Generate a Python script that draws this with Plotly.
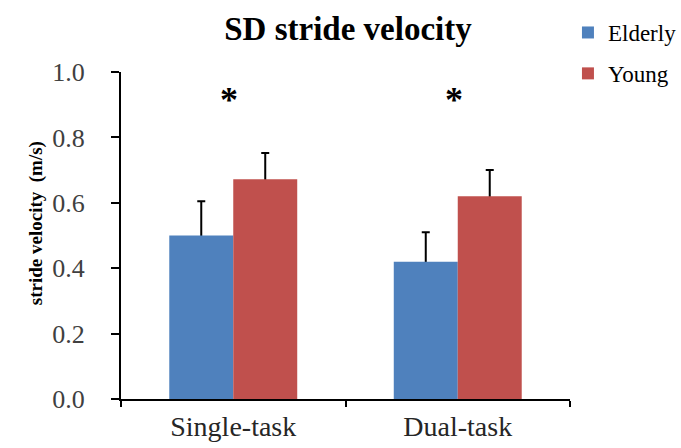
import plotly.graph_objects as go

categories = ["Single-task", "Dual-task"]
elderly = [0.50, 0.42]
elderly_sd = [0.105, 0.09]
young = [0.672, 0.62]
young_sd = [0.08, 0.08]
y_ticks = [0.0, 0.2, 0.4, 0.6, 0.8, 1.0]
y_tick_labels = ["0.0", "0.2", "0.4", "0.6", "0.8", "1.0"]
markers = ["*", "*"]
marker_y = [0.915, 0.915]

SERIF = "Liberation Serif, Times New Roman, serif"
BLUE = "#4F81BD"
RED = "#C0504D"

fig = go.Figure()
# error bars (drawn underneath, on the base y axis, with transparent bars)
for name, vals, sd, grp in [("Elderly", elderly, elderly_sd, "e"), ("Young", young, young_sd, "y")]:
    fig.add_trace(go.Bar(
        x=categories, y=vals, name=name, legendgroup=grp, showlegend=False,
        marker=dict(color="rgba(0,0,0,0)", line=dict(width=0)), hoverinfo="skip",
        error_y=dict(type="data", array=sd, arrayminus=[0.03] * len(sd), symmetric=False,
                     color="black", thickness=2, width=4),
        yaxis="y",
    ))
# visible bars on an overlaid axis so they cover the lower part of the error bars
for name, vals, color, grp in [("Elderly", elderly, BLUE, "e"), ("Young", young, RED, "y")]:
    fig.add_trace(go.Bar(
        x=categories, y=vals, name=name, legendgroup=grp,
        marker=dict(color=color, line=dict(width=0)),
        yaxis="y2",
    ))

for c, m, yv in zip(categories, markers, marker_y):
    fig.add_annotation(x=c, y=yv, xref="x", yref="y", text="<b>" + m + "</b>", showarrow=False,
                       xshift=-4, font=dict(family=SERIF, size=36, color="black"))

fig.add_annotation(x=-0.218, y=0.538, xref="paper", yref="paper",
                   text="<b>stride velocity  (m/s)</b>", textangle=-90, showarrow=False,
                   font=dict(family=SERIF, size=19, color="black"))

fig.update_layout(
    width=681, height=448,
    margin=dict(l=121, r=111, t=72, b=49, autoexpand=False),
    paper_bgcolor="white", plot_bgcolor="white",
    barmode="group", bargap=0.43, bargroupgap=0,
    title=dict(text="<b>SD stride velocity</b>", x=348 / 681, xanchor="center",
               y=1 - 28 / 448, yanchor="middle",
               font=dict(family=SERIF, size=33, color="black")),
    legend=dict(xref="container", yref="container", x=0.834, xanchor="left",
                y=0.9754, yanchor="top",
                font=dict(family=SERIF, size=23, color="black"),
                tracegroupgap=8, bgcolor="rgba(0,0,0,0)"),
    showlegend=True,
    yaxis2=dict(overlaying="y", range=[0, 1], visible=False, showgrid=False, zeroline=False),
)
fig.update_xaxes(showline=True, linecolor="black", linewidth=2, ticks="outside",
                 tickson="boundaries", ticklen=6, tickwidth=2, tickcolor="black",
                 ticklabelstandoff=1, showgrid=False, automargin=False,
                 tickfont=dict(family=SERIF, size=28, color="#262626"))
fig.update_layout(yaxis=dict(range=[0, 1], tickvals=y_ticks, ticktext=y_tick_labels,
                             showline=True, linecolor="black", linewidth=2, ticks="outside",
                             ticklen=8, tickwidth=2, tickcolor="black", showgrid=False,
                             zeroline=False, ticklabelstandoff=21, automargin=False,
                             tickfont=dict(family=SERIF, size=26, color="#404040")))

fig.write_html("out.html")
